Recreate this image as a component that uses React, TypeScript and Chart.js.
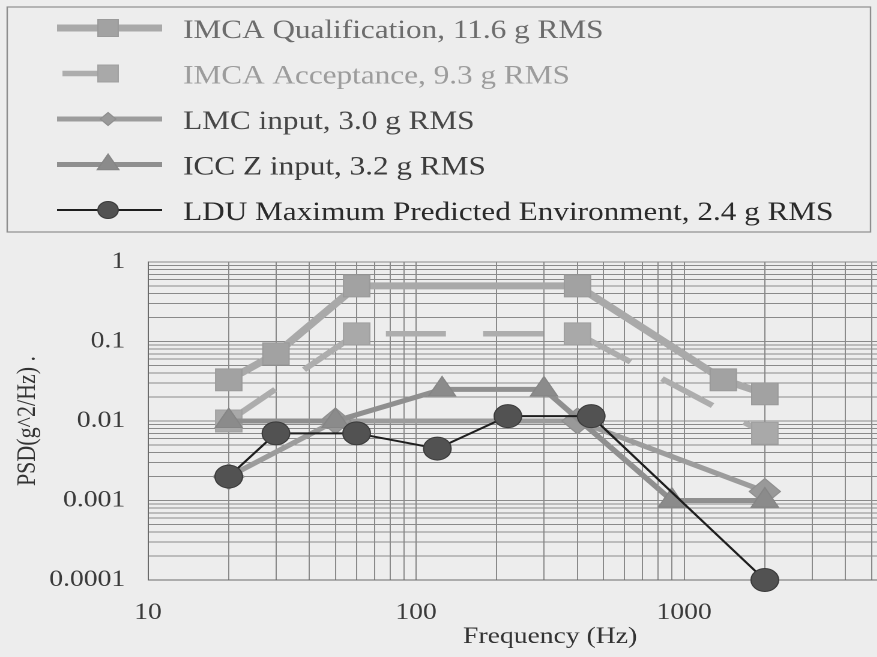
import React, { useEffect, useRef } from 'react';
import { Chart, registerables } from 'chart.js';

Chart.register(...registerables);

// ---------- data ----------
const FREQ_QUAL = [20, 30, 60, 400, 1400, 2000];
const PSD_QUAL = [0.033, 0.07, 0.5, 0.5, 0.033, 0.022];

const FREQ_ACC = [20, 60, 400, 2000];
const PSD_ACC = [0.01, 0.125, 0.125, 0.007];

const FREQ_LMC = [20, 50, 400, 2000];
const PSD_LMC = [0.002, 0.01, 0.01, 0.0013];

const FREQ_ICC = [20, 50, 125, 300, 900, 2000];
const PSD_ICC = [0.01, 0.01, 0.025, 0.025, 0.001, 0.001];

const FREQ_LDU = [20, 30, 60, 120, 220, 450, 2000];
const PSD_LDU = [0.002, 0.007, 0.007, 0.0045, 0.0115, 0.0115, 0.0001];

const SERIES_LABELS = [
  'IMCA Qualification, 11.6 g RMS',
  'IMCA Acceptance, 9.3 g RMS',
  'LMC input, 3.0 g RMS',
  'ICC Z input, 3.2 g RMS',
  'LDU Maximum Predicted Environment, 2.4 g RMS',
];

const X_DECADES = [10, 100, 1000];
const X_END = 10000;
const X_MAJOR = [10, 100, 1000, 10000];
const X_TICK_LABELS = ['10', '100', '1000', ''];
const Y_DECADES = [0.0001, 0.001, 0.01, 0.1];
const Y_END = 1;
const Y_MAJOR = [0.0001, 0.001, 0.01, 0.1, 1];
const Y_TICK_LABELS = ['0.0001', '0.001', '0.01', '0.1', '1'];
const MULTIPLIERS = [1, 2, 3, 4, 5, 6, 7, 8, 9];

// ---------- layout / style ----------
const STRETCH = 1.2;
const TICK_PAD = 19;
const PLOT_LEFT = 123.3;
const PLOT_RIGHT = 793.3;
const LW = PLOT_RIGHT + TICK_PAD;
const H = 657;
const FONT = '"Liberation Serif", "Times New Roman", serif';

const LEG = {
  x: 6, y: 7, w: 719, h: 225,
  row0: 28, gap: 45.5,
  lineX0: 47.5, lineX1: 135, markerX: 90, dashX0: 52,
  textX: 152.5,
};
const LEGEND_TEXT_COLORS = ['#6c6c6c', '#9c9c9c', '#474747', '#3c3c3c', '#2a2a2a'];
const LEGEND_RADIUS = [12, 12, 6.5, 10.5, 8.5];

function pts(xs: number[], ys: number[]) {
  return xs.map((x, i) => ({ x, y: ys[i] }));
}

function gridValues(decades: number[], end: number) {
  const out: number[] = [];
  decades.forEach((d) => MULTIPLIERS.forEach((m) => out.push(+(d * m).toPrecision(6))));
  out.push(end);
  return out;
}

function drawMarker(ctx: CanvasRenderingContext2D, style: string, x: number, y: number, r: number, fill: string, stroke: string) {
  ctx.beginPath();
  if (style === 'rect') {
    const s = r * Math.SQRT1_2;
    ctx.rect(x - s, y - s, 2 * s, 2 * s);
  } else if (style === 'rectRot') {
    ctx.moveTo(x, y - r);
    ctx.lineTo(x + r, y);
    ctx.lineTo(x, y + r);
    ctx.lineTo(x - r, y);
    ctx.closePath();
  } else if (style === 'triangle') {
    ctx.moveTo(x, y - r);
    ctx.lineTo(x + r * Math.sin((2 * Math.PI) / 3), y + r / 2);
    ctx.lineTo(x - r * Math.sin((2 * Math.PI) / 3), y + r / 2);
    ctx.closePath();
  } else {
    ctx.arc(x, y, r, 0, Math.PI * 2);
  }
  ctx.fillStyle = fill;
  ctx.fill();
  ctx.strokeStyle = stroke;
  ctx.lineWidth = 1;
  ctx.stroke();
}

const boxLegend = {
  id: 'boxLegend',
  afterDraw(chart: any) {
    const ctx: CanvasRenderingContext2D = chart.ctx;
    ctx.save();
    ctx.strokeStyle = '#8e8e8e';
    ctx.lineWidth = 1.2;
    ctx.strokeRect(LEG.x, LEG.y, LEG.w, LEG.h);
    chart.data.datasets.forEach((ds: any, i: number) => {
      const y = LEG.row0 + i * LEG.gap;
      ctx.save();
      ctx.strokeStyle = ds.borderColor;
      ctx.lineWidth = ds.borderWidth;
      ctx.beginPath();
      if (ds.borderDash) {
        // dashed series: only the first dash shows, up to the marker
        ctx.moveTo(LEG.dashX0, y);
        ctx.lineTo(LEG.markerX, y);
      } else {
        ctx.moveTo(LEG.lineX0, y);
        ctx.lineTo(LEG.lineX1, y);
      }
      ctx.stroke();
      drawMarker(ctx, ds.pointStyle, LEG.markerX, y, LEGEND_RADIUS[i], ds.pointBackgroundColor, ds.pointBorderColor);
      ctx.restore();
      ctx.fillStyle = LEGEND_TEXT_COLORS[i];
      ctx.font = `26px ${FONT}`;
      ctx.textAlign = 'left';
      ctx.textBaseline = 'alphabetic';
      ctx.fillText(ds.label, LEG.textX, y + 10);
    });
    ctx.restore();
  },
};

const isMajor = (v: number, majors: number[]) => majors.some((m) => Math.abs(m - v) / m < 1e-6);

export default function App() {
  const ref = useRef<HTMLCanvasElement>(null);

  useEffect(() => {
    const canvas = ref.current;
    if (!canvas) return;
    const common = { tension: 0, clip: false as any };
    const chart = new Chart(canvas, {
      type: 'line',
      data: {
        datasets: [
          {
            ...common,
            label: SERIES_LABELS[0],
            data: pts(FREQ_QUAL, PSD_QUAL),
            borderColor: '#a9a9a9',
            borderWidth: 7,
            pointStyle: 'rect',
            pointRadius: 15.5,
            pointBackgroundColor: '#a2a2a2',
            pointBorderColor: '#9a9a9a',
            pointBorderWidth: 1,
            order: 4,
          },
          {
            ...common,
            label: SERIES_LABELS[1],
            data: pts(FREQ_ACC, PSD_ACC),
            borderColor: '#adadad',
            borderWidth: 5.5,
            borderDash: [50, 31],
            pointStyle: 'rect',
            pointRadius: 15.5,
            pointBackgroundColor: '#a9a9a9',
            pointBorderColor: '#a0a0a0',
            pointBorderWidth: 1,
            order: 3,
          },
          {
            ...common,
            label: SERIES_LABELS[2],
            data: pts(FREQ_LMC, PSD_LMC),
            borderColor: '#9c9c9c',
            borderWidth: 5,
            pointStyle: 'rectRot',
            pointRadius: 13,
            pointBackgroundColor: '#999999',
            pointBorderColor: '#8e8e8e',
            pointBorderWidth: 1,
            order: 2,
          },
          {
            ...common,
            label: SERIES_LABELS[3],
            data: pts(FREQ_ICC, PSD_ICC),
            borderColor: '#8f8f8f',
            borderWidth: 5,
            pointStyle: 'triangle',
            pointRadius: 13,
            pointBackgroundColor: '#8b8b8b',
            pointBorderColor: '#858585',
            pointBorderWidth: 1,
            order: 1,
          },
          {
            ...common,
            label: SERIES_LABELS[4],
            data: pts(FREQ_LDU, PSD_LDU),
            borderColor: '#1e1e1e',
            borderWidth: 2,
            pointStyle: 'circle',
            pointRadius: 11.5,
            pointBackgroundColor: '#525252',
            pointBorderColor: '#3a3a3a',
            pointBorderWidth: 1,
            order: 0,
          },
        ],
      },
      options: {
        animation: false,
        responsive: false,
        devicePixelRatio: 2,
        events: [],
        layout: { padding: { top: 262, right: 0, bottom: 0, left: 0 } },
        plugins: {
          legend: { display: false },
          tooltip: { enabled: false },
          title: { display: false },
        },
        scales: {
          x: {
            type: 'logarithmic',
            min: 10,
            max: 10000,
            afterBuildTicks: (s: any) => {
              s.ticks = gridValues(X_DECADES, X_END).map((v) => ({ value: v, major: isMajor(v, X_MAJOR) }));
            },
            afterFit: (s: any) => {
              s.height = H - 580;
            },
            grid: { color: '#8a8a8a', lineWidth: 1, drawTicks: false },
            border: { display: true, color: '#6a6a6a', width: 1 },
            ticks: {
              autoSkip: false,
              maxRotation: 0,
              minRotation: 0,
              padding: TICK_PAD,
              color: '#3a3a3a',
              font: { family: FONT, size: 23 },
              callback: (v: any) => {
                const idx = X_MAJOR.findIndex((m) => Math.abs(m - Number(v)) / m < 1e-6);
                return idx >= 0 ? X_TICK_LABELS[idx] : '';
              },
            },
            title: {
              display: true,
              text: 'Frequency (Hz)',
              color: '#333333',
              font: { family: FONT, size: 23 },
              padding: { top: 0, bottom: 6 },
            },
          },
          y: {
            type: 'logarithmic',
            min: 0.0001,
            max: 1,
            afterBuildTicks: (s: any) => {
              s.ticks = gridValues(Y_DECADES, Y_END).map((v) => ({ value: v, major: isMajor(v, Y_MAJOR) }));
            },
            afterFit: (s: any) => {
              s.width = PLOT_LEFT;
            },
            grid: { color: '#8a8a8a', lineWidth: 1, drawTicks: false },
            border: { display: true, color: '#6a6a6a', width: 1 },
            ticks: {
              autoSkip: false,
              padding: TICK_PAD,
              color: '#3a3a3a',
              font: { family: FONT, size: 23 },
              callback: (v: any) => {
                const idx = Y_MAJOR.findIndex((m) => Math.abs(m - Number(v)) / m < 1e-6);
                return idx >= 0 ? Y_TICK_LABELS[idx] : '';
              },
            },
            title: {
              display: true,
              text: 'PSD(g^2/Hz) .',
              color: '#333333',
              font: { family: FONT, size: 22 },
              padding: { top: 10, bottom: 0 },
            },
          },
        },
      } as any,
      plugins: [boxLegend as any],
    });
    return () => chart.destroy();
  }, []);

  return (
    <div
      style={{
        position: 'fixed',
        left: 0,
        top: 0,
        width: 877,
        height: 657,
        overflow: 'hidden',
        background: '#ededed',
      }}
    >
      <canvas
        ref={ref}
        width={LW}
        height={H}
        style={{ width: `${LW * STRETCH}px`, height: `${H}px`, display: 'block' }}
      />
    </div>
  );
}
